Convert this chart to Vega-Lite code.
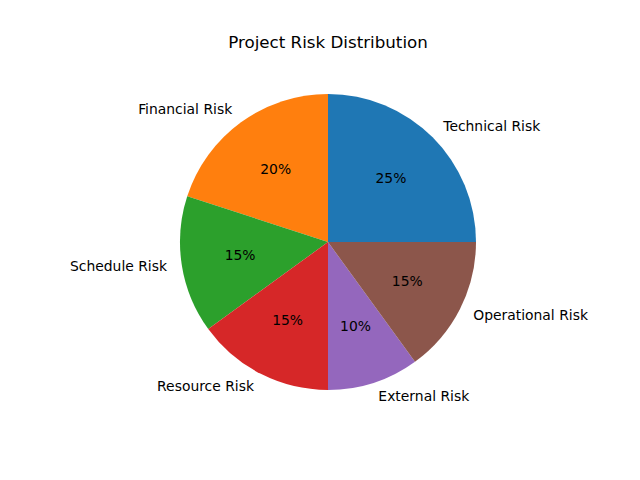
{
  "$schema": "https://vega.github.io/schema/vega-lite/v6.json",
  "width": 656,
  "height": 484,
  "autosize": "none",
  "padding": 0,
  "background": "white",
  "title": {
    "text": "Project Risk Distribution",
    "font": "DejaVu Sans",
    "fontSize": 16.7,
    "fontWeight": "normal",
    "color": "black",
    "anchor": "middle",
    "offset": -52
  },
  "data": {
    "values": [
      {"category": "Technical Risk", "share": 0.25},
      {"category": "Financial Risk", "share": 0.20},
      {"category": "Schedule Risk", "share": 0.15},
      {"category": "Resource Risk", "share": 0.15},
      {"category": "External Risk", "share": 0.10},
      {"category": "Operational Risk", "share": 0.15}
    ]
  },
  "transform": [{"window": [{"op": "row_number", "as": "idx"}]}],
  "encoding": {
    "theta": {
      "field": "share",
      "type": "quantitative",
      "stack": true,
      "scale": {"range": [1.5708, -4.7124]}
    },
    "order": {"field": "idx", "type": "quantitative", "sort": "ascending"}
  },
  "layer": [
    {
      "mark": {"type": "arc", "radius": 148},
      "encoding": {
        "color": {
          "field": "category",
          "type": "nominal",
          "scale": {
            "domain": ["Technical Risk", "Financial Risk", "Schedule Risk", "Resource Risk", "External Risk", "Operational Risk"],
            "range": ["#1f77b4", "#ff7f0e", "#2ca02c", "#d62728", "#9467bd", "#8c564b"]
          },
          "legend": null
        }
      }
    },
    {
      "mark": {"type": "text", "radius": 89, "font": "DejaVu Sans", "fontSize": 13.9, "color": "black", "baseline": "middle", "align": "center"},
      "encoding": {
        "detail": {"field": "category", "type": "nominal"},
        "text": {"field": "share", "type": "quantitative", "format": ".0%"}
      }
    },
    {
      "mark": {
        "type": "text",
        "radius": 163,
        "font": "DejaVu Sans",
        "fontSize": 13.9,
        "color": "black",
        "baseline": "middle",
        "align": {"expr": "indexof(['Financial Risk', 'Schedule Risk', 'Resource Risk'], datum.category) >= 0 ? 'right' : 'left'"}
      },
      "encoding": {
        "detail": {"field": "category", "type": "nominal"},
        "text": {"field": "category", "type": "nominal"}
      }
    }
  ],
  "config": {"view": {"stroke": null}}
}
